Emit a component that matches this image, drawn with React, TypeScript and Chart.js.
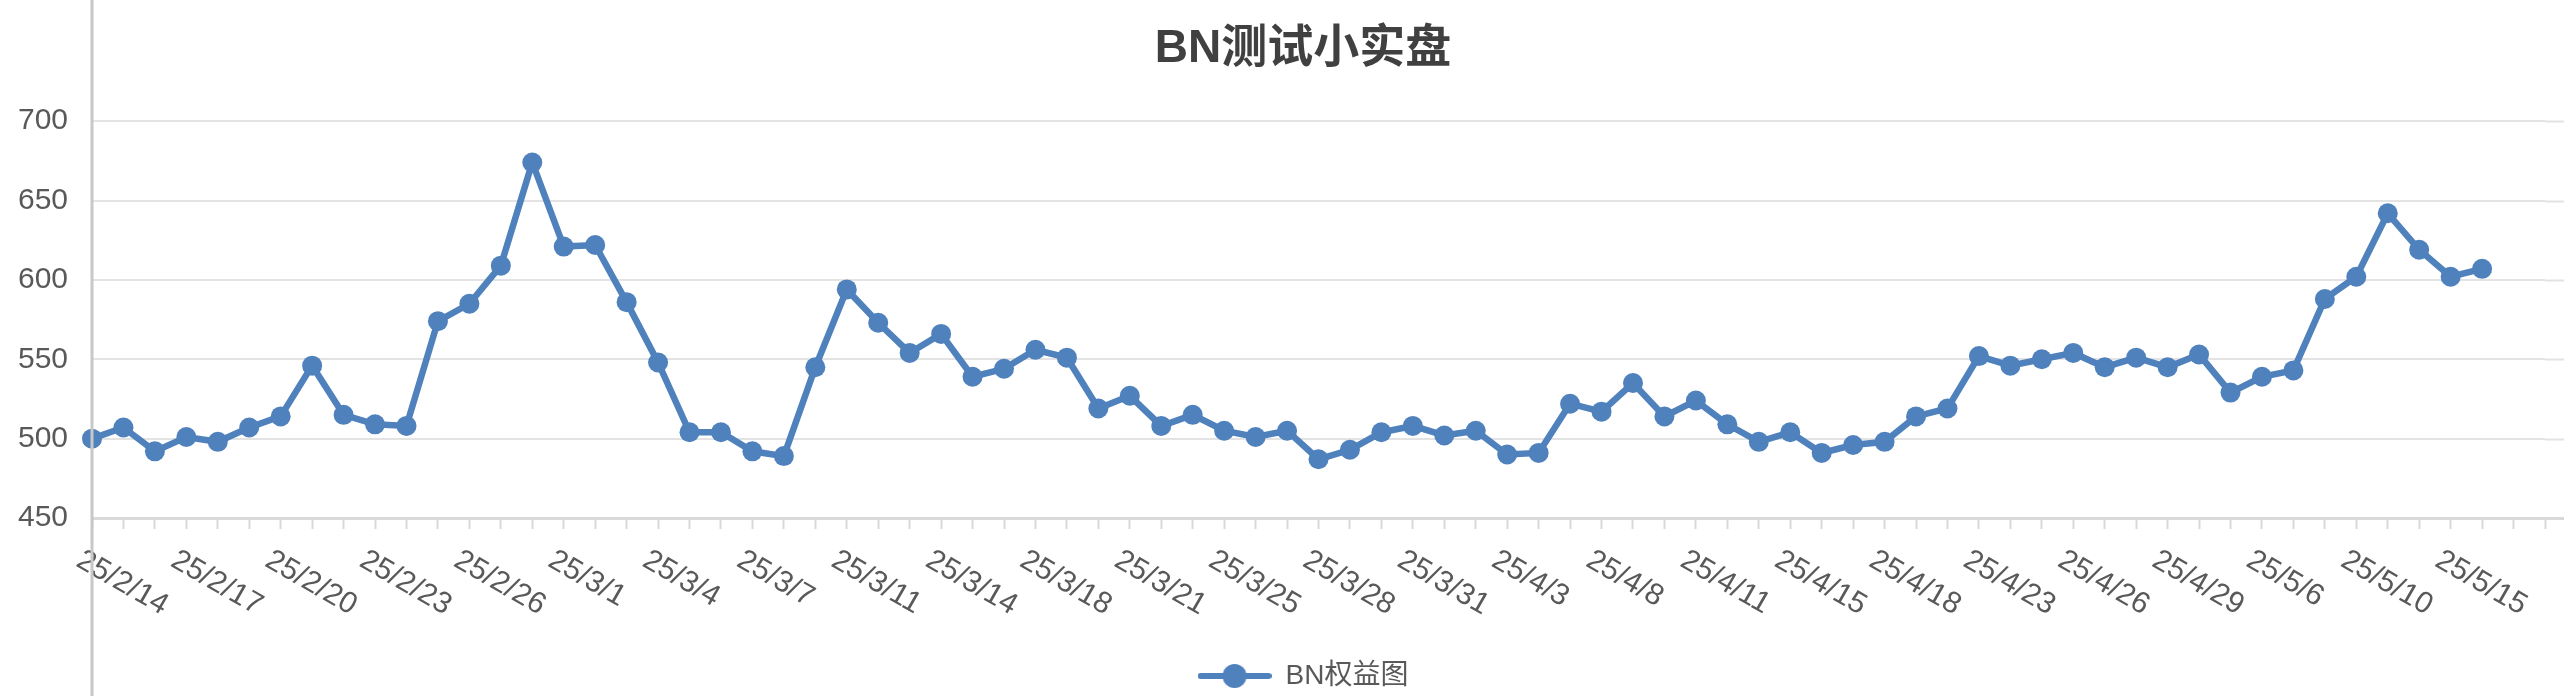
import { useEffect, useRef } from "react";
import { Chart, ChartConfiguration, registerables } from "chart.js";

Chart.register(...registerables);

// 日期（最后两个是空行）
const dates: string[] = [
  "25/2/14", "25/2/15", "25/2/16", "25/2/17", "25/2/18", "25/2/19", "25/2/20", "25/2/21",
  "25/2/22", "25/2/23", "25/2/24", "25/2/25", "25/2/26", "25/2/27", "25/2/28", "25/3/1",
  "25/3/2", "25/3/3", "25/3/4", "25/3/5", "25/3/6", "25/3/7", "25/3/9", "25/3/10",
  "25/3/11", "25/3/12", "25/3/13", "25/3/14", "25/3/16", "25/3/17", "25/3/18", "25/3/19",
  "25/3/20", "25/3/21", "25/3/23", "25/3/24", "25/3/25", "25/3/26", "25/3/27", "25/3/28",
  "25/3/29", "25/3/30", "25/3/31", "25/4/1", "25/4/2", "25/4/3", "25/4/6", "25/4/7",
  "25/4/8", "25/4/9", "25/4/10", "25/4/11", "25/4/13", "25/4/14", "25/4/15", "25/4/16",
  "25/4/17", "25/4/18", "25/4/21", "25/4/22", "25/4/23", "25/4/24", "25/4/25", "25/4/26",
  "25/4/27", "25/4/28", "25/4/29", "25/5/1", "25/5/5", "25/5/6", "25/5/7", "25/5/8",
  "25/5/10", "25/5/12", "25/5/14", "25/5/15", "25/5/16", "", "",
];

// BN权益
const equity: number[] = [
  500, 507, 492, 501, 498, 507, 514, 546, 515, 509, 508, 574, 585, 609, 674, 621,
  622, 586, 548, 504, 504, 492, 489, 545, 594, 573, 554, 566, 539, 544, 556, 551,
  519, 527, 508, 515, 505, 501, 505, 487, 493, 504, 508, 502, 505, 490, 491, 522,
  517, 535, 514, 524, 509, 498, 504, 491, 496, 498, 514, 519, 552, 546, 550, 554,
  545, 551, 545, 553, 529, 539, 543, 588, 602, 642, 619, 602, 607,
];

const yTicks: number[] = [450, 500, 550, 600, 650, 700];

const LINE_COLOR = "#4F81BD";
const TEXT_COLOR = "#595959";
const GRID_COLOR = "#E3E3E3";
const AXIS_COLOR = "#D9D9D9";
const FONT = '"Liberation Sans", "Noto Sans CJK SC", sans-serif';

// 图例：线 + 圆点
const legendMarker = (() => {
  const c = document.createElement("canvas");
  c.width = 74;
  c.height = 26;
  const g = c.getContext("2d")!;
  g.strokeStyle = LINE_COLOR;
  g.lineWidth = 6;
  g.lineCap = "round";
  g.beginPath();
  g.moveTo(3, 13);
  g.lineTo(71, 13);
  g.stroke();
  g.fillStyle = LINE_COLOR;
  g.beginPath();
  g.arc(37, 13, 12, 0, Math.PI * 2);
  g.fill();
  return c;
})();

const excelAxesPlugin = {
  id: "excelAxes",
  beforeDatasetsDraw(chart: Chart) {
    const { ctx, chartArea, scales, width } = chart;
    const y = scales["y"];
    ctx.save();
    // 网格线延伸到右边
    ctx.strokeStyle = GRID_COLOR;
    ctx.lineWidth = 2;
    yTicks.forEach((v) => {
      const py = Math.round(y.getPixelForValue(v)) + 0.5;
      ctx.beginPath();
      ctx.moveTo(chartArea.right, py);
      ctx.lineTo(width, py);
      ctx.stroke();
    });
    ctx.strokeStyle = AXIS_COLOR;
    ctx.lineWidth = 3;
    ctx.beginPath();
    ctx.moveTo(chartArea.right - 2, chartArea.bottom + 0.5);
    ctx.lineTo(width, chartArea.bottom + 0.5);
    ctx.stroke();
    ctx.restore();
  },
  afterDraw(chart: Chart) {
    const { ctx, chartArea, scales, height } = chart;
    const x = scales["x"];
    const y = scales["y"];
    ctx.save();
    ctx.fillStyle = TEXT_COLOR;
    ctx.font = `30px ${FONT}`;
    // y 轴数字
    ctx.textAlign = "right";
    ctx.textBaseline = "middle";
    yTicks.forEach((v) => {
      ctx.fillText(String(v), chartArea.left - 24, y.getPixelForValue(v));
    });
    // 斜着的日期标签，每三个一个
    ctx.textAlign = "left";
    dates.forEach((d, i) => {
      if (i % 3 !== 0 || !d) return;
      const px = x.getPixelForValue(i);
      ctx.save();
      ctx.translate(px - 13, chartArea.bottom + 40);
      ctx.rotate(Math.PI / 6);
      ctx.fillText(d, 0, 0);
      ctx.restore();
    });
    // 左边竖线，整个高度
    ctx.strokeStyle = "#C8C8C8";
    ctx.lineWidth = 3;
    ctx.beginPath();
    ctx.moveTo(chartArea.left, 0);
    ctx.lineTo(chartArea.left, height);
    ctx.stroke();
    ctx.restore();
  },
};

export default function App() {
  const canvasRef = useRef<HTMLCanvasElement | null>(null);

  useEffect(() => {
    if (!canvasRef.current) return;

    const config: ChartConfiguration<"line"> = {
      type: "line",
      data: {
        labels: dates,
        datasets: [
          {
            label: "BN权益图",
            data: equity,
            borderColor: LINE_COLOR,
            backgroundColor: LINE_COLOR,
            borderWidth: 6.5,
            pointRadius: 10,
            pointHoverRadius: 10,
            pointBorderWidth: 0,
            pointBackgroundColor: LINE_COLOR,
            tension: 0,
            clip: false,
          },
        ],
      },
      plugins: [excelAxesPlugin],
      options: {
        responsive: true,
        maintainAspectRatio: false,
        animation: false,
        layout: { padding: { left: 61, right: 19, top: 0, bottom: -4 } },
        plugins: {
          title: {
            display: true,
            text: "BN测试小实盘",
            color: "#404040",
            font: { family: FONT, size: 46, weight: "bold" },
            padding: { top: 22, bottom: 44 },
          },
          legend: {
            display: true,
            position: "bottom",
            labels: {
              usePointStyle: true,
              pointStyle: legendMarker,
              pointStyleWidth: 74,
              color: TEXT_COLOR,
              font: { family: FONT, size: 28 },
              padding: 10,
            },
          },
          tooltip: { enabled: false },
        },
        scales: {
          x: {
            type: "category",
            offset: false,
            grid: {
              drawOnChartArea: false,
              drawTicks: true,
              tickLength: 11,
              tickWidth: 2,
              color: AXIS_COLOR,
            },
            border: { display: true, color: AXIS_COLOR, width: 3 },
            ticks: { display: false },
            afterFit: (s) => {
              s.height = 134;
            },
          },
          y: {
            min: 450,
            max: 700,
            grid: { color: GRID_COLOR, lineWidth: 2, drawTicks: false },
            border: { display: false },
            ticks: { stepSize: 50, display: false },
            afterFit: (s) => {
              s.width = 31;
            },
          },
        },
      },
    };

    const chart = new Chart(canvasRef.current, config);
    return () => {
      chart.destroy();
    };
  }, []);

  return (
    <div style={{ position: "absolute", left: 0, top: 0, width: 2564, height: 696, background: "#fff" }}>
      <canvas ref={canvasRef} />
    </div>
  );
}
